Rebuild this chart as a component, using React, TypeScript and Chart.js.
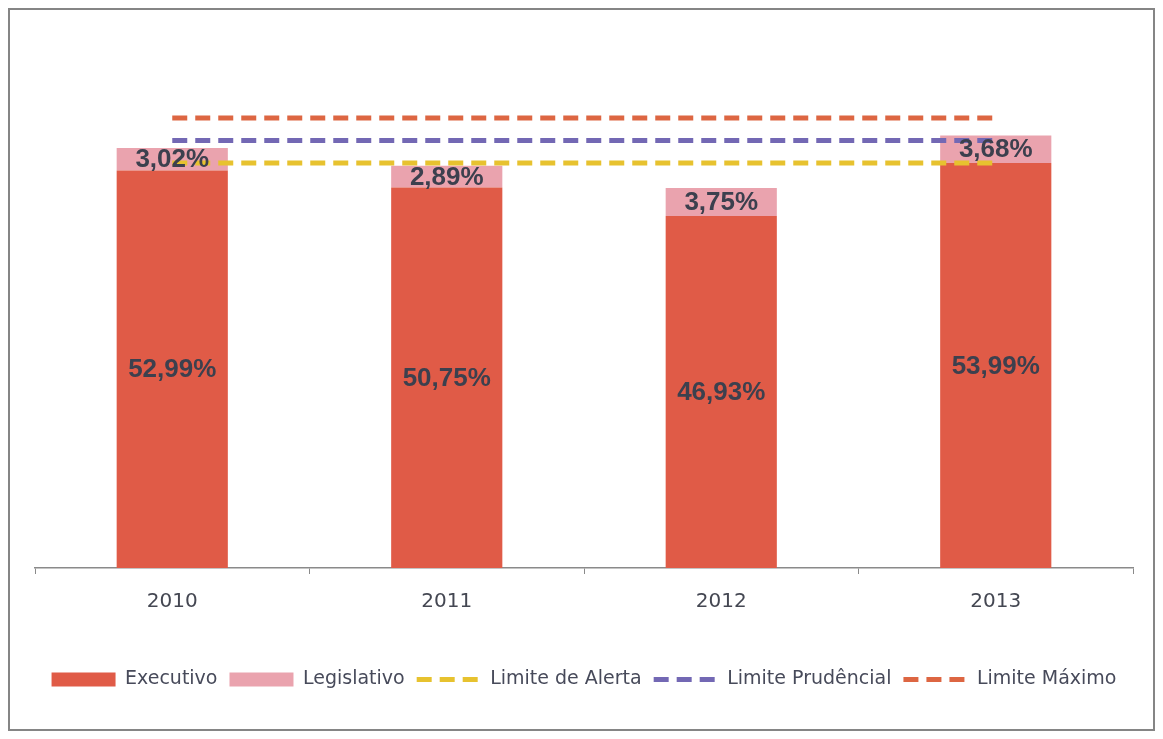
import React, { useEffect, useRef } from "react";
import { Chart, registerables } from "chart.js";

Chart.register(...registerables);

const categories = ["2010", "2011", "2012", "2013"];
const executivo = [52.99, 50.75, 46.93, 53.99];
const legislativo = [3.02, 2.89, 3.75, 3.68];
const limiteAlerta = [54, 54, 54, 54];
const limitePrudencial = [57, 57, 57, 57];
const limiteMaximo = [60, 60, 60, 60];

const fmt = (v: number) => v.toFixed(2).replace(".", ",") + "%";

const barLabels = {
  id: "barLabels",
  afterDatasetsDraw(chart: any) {
    const ctx = chart.ctx;
    ctx.save();
    ctx.font = "bold 26px 'Liberation Sans', Arial, sans-serif";
    ctx.fillStyle = "#3c404e";
    ctx.textAlign = "center";
    ctx.textBaseline = "middle";
    chart.data.datasets.forEach((ds: any, i: number) => {
      if (ds.type !== "bar") return;
      const meta = chart.getDatasetMeta(i);
      meta.data.forEach((el: any, j: number) => {
        const p = el.getProps(["x", "y", "base"], true);
        ctx.fillText(fmt(ds.data[j]), p.x, (p.y + p.base) / 2 + 1);
      });
    });
    ctx.restore();
  },
};

export default function App() {
  const ref = useRef<HTMLCanvasElement>(null);
  useEffect(() => {
    if (!ref.current) return;
    const lineDs = (label: string, data: number[], color: string, stack: string) => ({
      type: "line" as const,
      label,
      data,
      borderColor: color,
      backgroundColor: color,
      borderWidth: 5,
      borderDash: [15, 8],
      pointRadius: 0,
      pointHoverRadius: 0,
      pointStyle: "line",
      fill: false,
      stack,
      order: 0,
    });
    const chart = new Chart(ref.current, {
      type: "bar",
      data: {
        labels: categories,
        datasets: [
          {
            type: "bar",
            label: "Executivo",
            data: executivo,
            backgroundColor: "#e05b47",
            borderWidth: 0,
            pointStyle: "rect",
            stack: "gastos",
            order: 1,
          } as any,
          {
            type: "bar",
            label: "Legislativo",
            data: legislativo,
            backgroundColor: "#eaa3ae",
            borderWidth: 0,
            pointStyle: "rect",
            stack: "gastos",
            order: 1,
          } as any,
          lineDs("Limite de Alerta", limiteAlerta, "#e7c22f", "alerta"),
          lineDs("Limite Prudêncial", limitePrudencial, "#7368b4", "prud"),
          lineDs("Limite Máximo", limiteMaximo, "#dd6642", "max"),
        ],
      },
      options: {
        animation: false,
        responsive: true,
        maintainAspectRatio: false,
        datasets: {
          bar: { barPercentage: 0.405, categoryPercentage: 1 },
        },
        layout: { padding: { top: 33, left: 25, right: 20, bottom: 30 } },
        scales: {
          x: {
            stacked: true,
            offset: true,
            grid: {
              display: true,
              drawOnChartArea: false,
              drawTicks: true,
              tickLength: 6,
              color: "#8a8a8a",
              offset: true,
            },
            border: { display: true, color: "#8a8a8a", width: 1.5 },
            ticks: {
              color: "#444752",
              padding: 16,
              font: { family: "'DejaVu Sans', sans-serif", size: 20 },
            },
            afterFit: (scale: any) => {
              scale.height = 90;
            },
          },
          y: {
            stacked: true,
            display: false,
            min: 0,
            max: 70,
          },
        },
        plugins: {
          legend: {
            display: true,
            position: "bottom",
            labels: {
              usePointStyle: true,
              pointStyleWidth: 64,
              boxHeight: 14,
              padding: 12,
              color: "#474a5a",
              font: { family: "'DejaVu Sans', sans-serif", size: 19 },
              sort: (a: any, b: any) => a.datasetIndex - b.datasetIndex,
              generateLabels: (ch: any) => {
                const items = Chart.defaults.plugins.legend.labels.generateLabels(ch);
                items.forEach((it: any) => {
                  const ds = ch.data.datasets[it.datasetIndex];
                  if (ds.type === "line") {
                    it.lineDash = ds.borderDash;
                    it.lineWidth = ds.borderWidth;
                    it.strokeStyle = ds.borderColor;
                  }
                });
                return items;
              },
            },
          },
          tooltip: { enabled: false },
        },
      } as any,
      plugins: [barLabels],
    });
    return () => chart.destroy();
  }, []);

  return (
    <div
      style={{
        width: 1147,
        height: 723,
        border: "2px solid #858585",
        boxSizing: "border-box",
        background: "#fff",
        position: "relative",
      }}
    >
      <canvas ref={ref} />
    </div>
  );
}
